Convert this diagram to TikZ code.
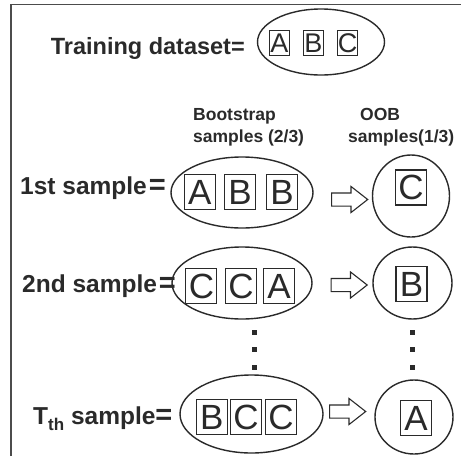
\documentclass[tikz,border=0pt]{standalone}
\usepackage{fontspec}
\setmainfont{Liberation Sans}
\usepackage{tikz}
\usetikzlibrary{shapes.geometric,shapes.arrows,positioning}
\definecolor{ink}{HTML}{2A2A2A}
\newcommand{\bigeq}{{\fontsize{29}{30}\selectfont=}}

\tikzset{
  lbl/.style={font=\bfseries\fontsize{24.5}{27}\selectfont, text=ink, inner sep=0},
  hdr/.style={font=\bfseries\fontsize{17.5}{20}\selectfont, text=ink, inner sep=0},
  bag/.style={draw=ink, line width=1.4pt, ellipse, inner sep=0},
  item/.style={draw=ink, line width=1.1pt, inner sep=0, minimum width=31pt, minimum height=35pt, font=\fontsize{35}{38}\selectfont, text=ink},
  smallitem/.style={item, minimum width=20pt, minimum height=25pt, font=\fontsize{27}{28}\selectfont},
  oobarrow/.style={draw=ink, line width=1.1pt, single arrow, inner sep=6pt, minimum height=36pt, single arrow head extend=6.5pt, single arrow tip angle=76}
}

\begin{document}
\begin{tikzpicture}[x=1pt,y=-1pt]
        \useasboundingbox (0,0) rectangle (461,456);
        \draw[gray!60!black, line width=1.5pt] (11,456) -- (11,4.5) -- (461,4.5);
        % training set
        \node[lbl, font=\bfseries\fontsize{23.5}{26}\selectfont, anchor=base east] (train) at (245,54) {Training dataset=};
        \node[bag, minimum width=127pt, minimum height=66pt] (data) at (321,42) {};
        \node[smallitem] (dataB) at (313.5,43) {B};
        \node[smallitem, left=13pt of dataB] (dataA) {A};
        \node[smallitem, right=13pt of dataB] (dataC) {C};
        % headers
        \node[hdr, anchor=base west] (boot) at (193,120) {Bootstrap};
        \node[hdr, anchor=base west] (bootfrac) at (193,142) {samples (2/3)};
        \node[hdr, anchor=base west] (oob) at (360,120) {OOB};
        \node[hdr, anchor=base west] (oobfrac) at (348,142) {samples(1/3)};
        % 1st sample
        \node[lbl, anchor=base west] (row1) at (20,194) {1st sample\hspace{2pt}\bigeq};
        \node[bag, minimum width=142pt, minimum height=71pt] (bag1) at (242,192.5) {};
        \node[item] (bag1b) at (240,192) {B};
        \node[item, left=8pt of bag1b] (bag1a) {A};
        \node[item, right=10pt of bag1b] (bag1c) {B};
        \node[oobarrow] (arr1) at (345.5,199.5) {};
        \node[bag, minimum width=77pt, minimum height=82pt] (oob1) at (411,196) {};
        \node[item] (oob1a) at (411,187.5) {C};
        % 2nd sample
        \node[lbl, anchor=base west] (row2) at (22,292) {2nd sample\hspace{2pt}\bigeq};
        \node[bag, minimum width=140pt, minimum height=72pt] (bag2) at (242,283) {};
        \node[item] (bag2b) at (241,286) {C};
        \node[item, left=7.5pt of bag2b] (bag2a) {C};
        \node[item, right=6pt of bag2b] (bag2c) {A};
        \node[oobarrow] (arr2) at (345,285) {};
        \node[bag, minimum width=79pt, minimum height=72pt] (oob2) at (412.5,283) {};
        \node[item] (oob2a) at (411.5,284) {B};
        % dots
        \foreach \y in {332,349,367} {
          \fill[ink] (251.5,\y-2.5) rectangle (256.5,\y+2.5);
          \fill[ink] (409.5,\y-2.5) rectangle (414.5,\y+2.5);
        }
        % T-th sample
        \node[lbl, anchor=base west] (rowT) at (33,424) {T\raisebox{-6pt}{\fontsize{17}{18}\selectfont th} sample\bigeq};
        \node[bag, minimum width=143pt, minimum height=78pt] (bagT) at (251.5,414) {};
        \node[item] (bagTb) at (246,417) {C};
        \node[item, left=2pt of bagTb] (bagTa) {B};
        \node[item, right=3pt of bagTb] (bagTc) {C};
        \node[oobarrow] (arrT) at (343.5,411.5) {};
        \node[bag, minimum width=78pt, minimum height=74pt] (oobT) at (414,417) {};
        \node[item] (oobTa) at (416,418) {A};
\end{tikzpicture}
\end{document}
